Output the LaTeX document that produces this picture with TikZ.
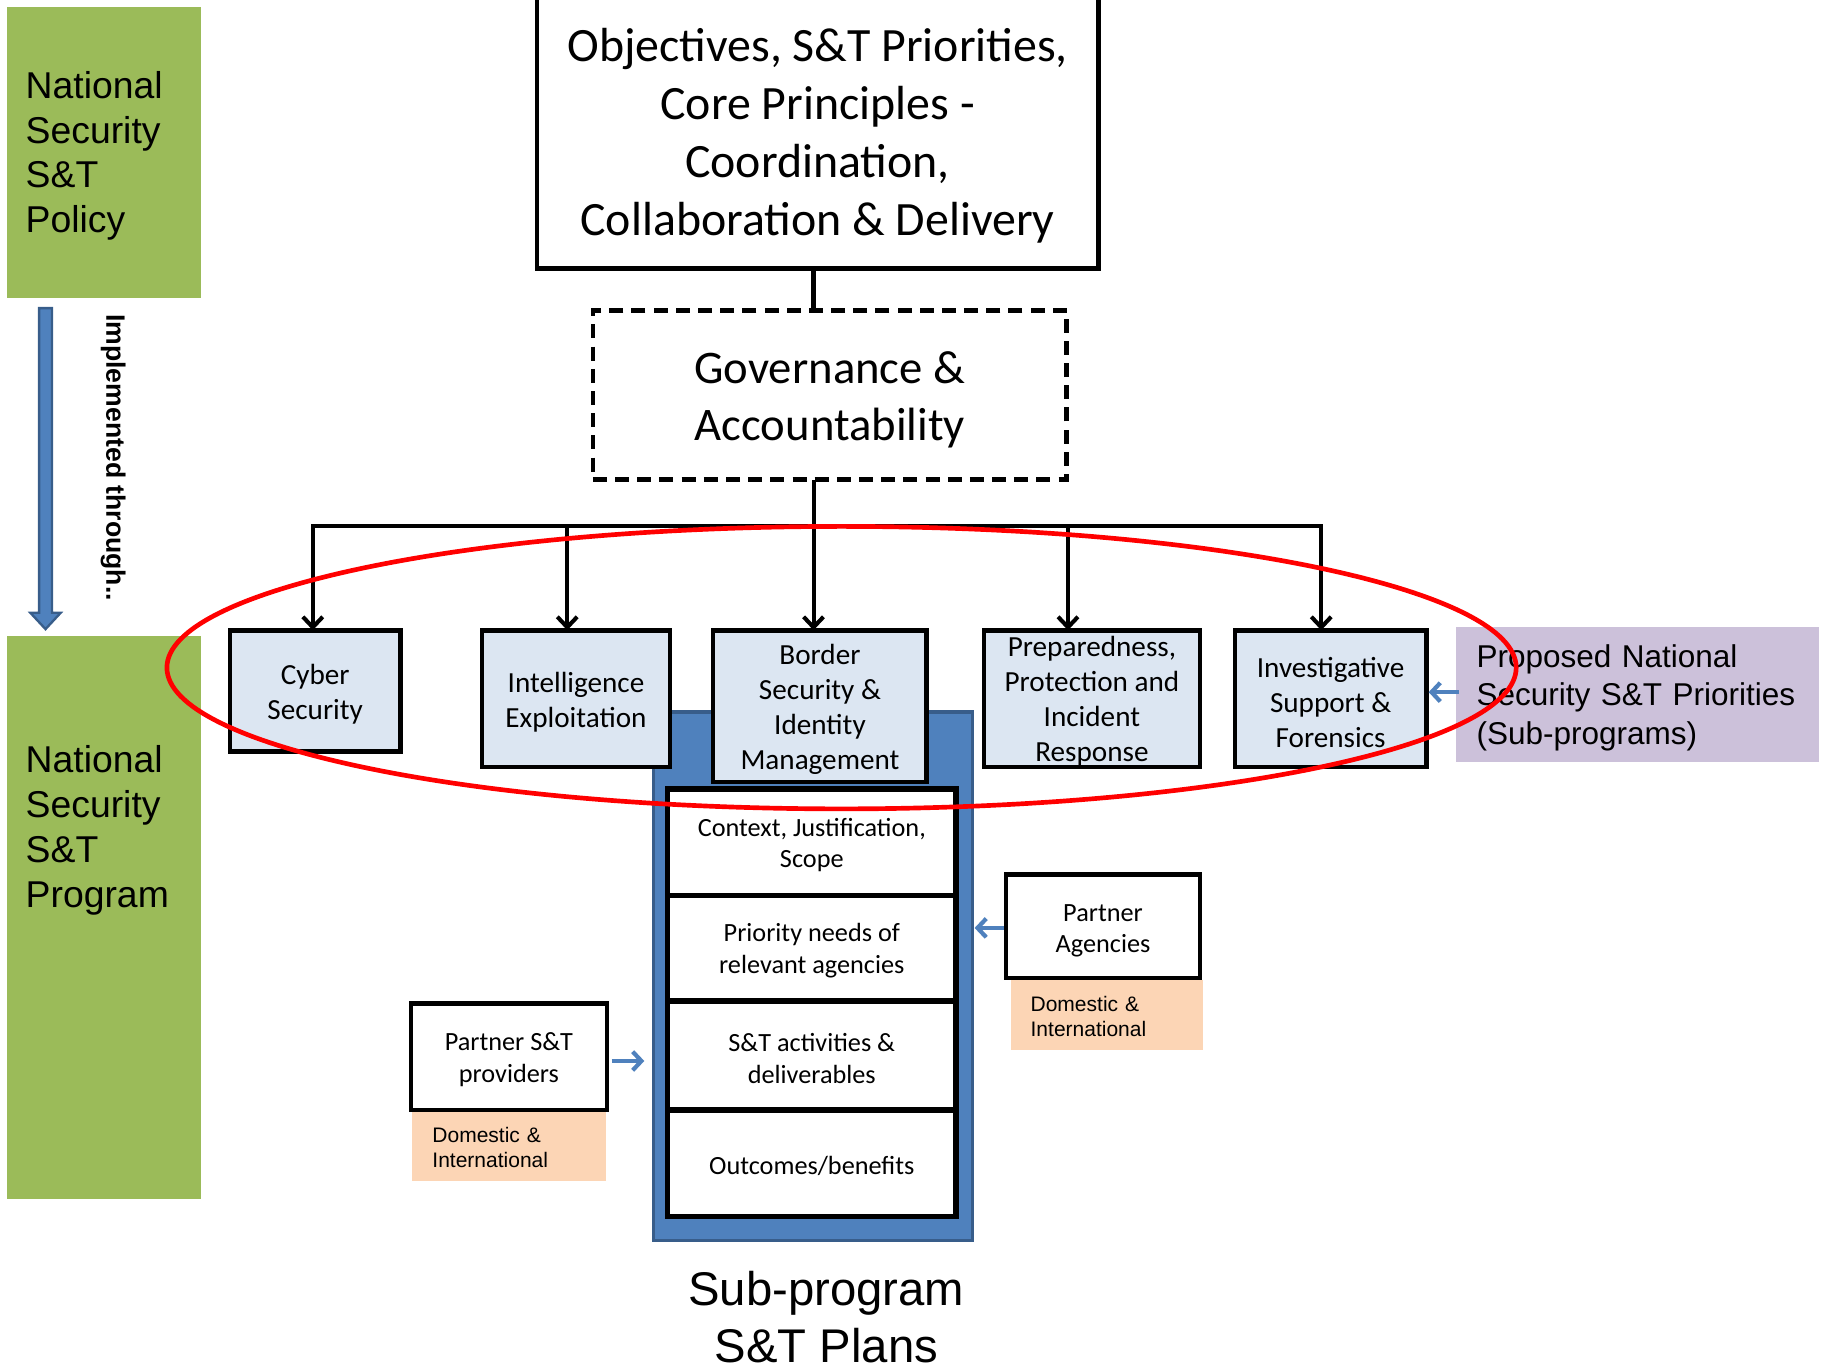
\documentclass[tikz,border=0pt]{standalone}
\usepackage{fontspec}
\setmainfont{Carlito}
\newfontfamily\arialf{Liberation Sans}
\usetikzlibrary{arrows.meta,calc}
\definecolor{grn}{HTML}{9BBB59}
\definecolor{lblue}{HTML}{DCE6F2}
\definecolor{mblue}{HTML}{4F81BD}
\definecolor{dblue}{HTML}{385D8A}
\definecolor{purp}{HTML}{CCC1DA}
\definecolor{orng}{HTML}{FCD5B5}
\begin{document}
\begin{tikzpicture}[x=1pt,y=-1pt,
  every node/.style={inner sep=0pt, outer sep=0pt},
  greentxt/.style={align=left, text width=134pt, yshift=-3pt,
     font=\arialf\fontsize{32}{38.5}\selectfont},
  subbox/.style={draw=black, line width=4pt, fill=lblue},
  subtxt/.style={align=center, yshift=-3pt, font=\fontsize{25}{30}\selectfont},
  innerbox/.style={draw=black, line width=4.5pt, fill=white, minimum width=247pt},
  innertxt/.style={align=center, yshift=-2.5pt, font=\fontsize{22.5}{27}\selectfont},
  partnerbox/.style={draw=black, line width=4pt, fill=white},
  orangebox/.style={fill=orng, minimum width=165pt, minimum height=60pt},
  orangetxt/.style={align=left, text width=131pt, yshift=-1pt,
     font=\arialf\fontsize{18}{22}\selectfont},
  arr/.style={line width=3.5pt, -{Straight Barb[length=9pt,width=17pt]}},
  barr/.style={mblue, line width=3.6pt, -{Straight Barb[length=7.5pt,width=16pt]}}]
\useasboundingbox (0,0) rectangle (1567,1175);

% left green column
\node[fill=grn, minimum width=166pt, minimum height=249pt,
  label={[greentxt]center:{National\\Security\\S\&T\\Policy}}] (policy) at (89,130.5) {};
\node[fill=grn, minimum width=166pt, minimum height=482pt] (program) at (89,786) {};
\node[greentxt, anchor=west, text width=] (programtext)
  at (22,708.5) {National\\Security\\S\&T\\Program};
\coordinate (downtop) at (39,264);
\coordinate (downbot) at (39,539);
\draw[dblue, line width=2pt, fill=mblue]
  ($(downtop)+(-5.5,0)$) -- ($(downtop)+(5.5,0)$) -- ($(downbot)+(5.5,-14)$) -- ($(downbot)+(13,-14)$)
  -- (downbot) -- ($(downbot)+(-13,-14)$) -- ($(downbot)+(-5.5,-14)$) -- cycle;
\node[rotate=-90, font=\arialf\bfseries\fontsize{22.8}{27}\selectfont] (impl) at (97,392)
  {Implemented through..};

% top boxes
\node[draw=black, line width=4pt, fill=white, minimum width=481pt, minimum height=234pt,
  label={[align=center, yshift=-3.2pt, font=\fontsize{41}{49.5}\selectfont]center:%
  {Objectives, S\&T Priorities,\\Core Principles -\\Coordination,\\Collaboration \& Delivery}}]
  (obj) at (700.5,113) {};
\node[draw=black, line width=4pt, dash pattern=on 12pt off 7pt, fill=white,
  minimum width=406pt, minimum height=145pt,
  label={[align=center, yshift=-4pt, font=\fontsize{40}{49}\selectfont]center:%
  {Governance \&\\Accountability}}] (gov) at (711,338.5) {};

% sub-program plan panel
\node[draw=dblue, line width=3pt, fill=mblue, minimum width=273pt, minimum height=453pt]
  (sub) at (696.5,836.5) {};

% sub-programs
\node[subbox, minimum width=146pt, minimum height=104pt,
  label={[subtxt]center:{Cyber\\Security}}] (cyber) at (270,592) {};
\node[subbox, minimum width=161pt, minimum height=117pt,
  label={[subtxt]center:{Intelligence\\Exploitation}}] (intel) at (493.5,598.5) {};
\node[subbox, minimum width=183pt, minimum height=130pt,
  label={[subtxt, yshift=0.5pt]center:{Border\\Security \&\\Identity\\Management}}] (border) at (702.5,605) {};
\node[subbox, minimum width=185pt, minimum height=117pt,
  label={[subtxt, yshift=1pt]center:{Preparedness,\\Protection and\\Incident\\Response}}] (prep) at (935.5,598.5) {};
\node[subbox, minimum width=164pt, minimum height=117pt,
  label={[subtxt]center:{Investigative\\Support \&\\Forensics}}] (inv) at (1140,598.5) {};

\node[fill=purp, minimum width=311pt, minimum height=116pt,
  label={[align=left, text width=275pt, yshift=-2.5pt, font=\arialf\fontsize{27}{33}\selectfont]center:%
  {Proposed National\\Security S\&T Priorities\\(Sub-programs)}}] (prop) at (1402.5,595) {};

% inner plan boxes
\node[innerbox, minimum height=91pt,
  label={[innertxt]center:{Context, Justification,\\Scope}}] (ctx) at (695.5,721.5) {};
\node[innerbox, minimum height=90pt,
  label={[innertxt]center:{Priority needs of\\relevant agencies}}] (prio) at (695.5,812) {};
\node[innerbox, minimum height=93pt,
  label={[innertxt]center:{S\&T activities \&\\deliverables}}] (act) at (695.5,904.5) {};
\node[innerbox, minimum height=91pt,
  label={[innertxt]center:{Outcomes/benefits}}] (out) at (695.5,996.5) {};

% partners
\node[orangebox, label={[orangetxt]center:{Domestic \&\\International}}] (pado) at (948.5,870) {};
\node[partnerbox, minimum width=166pt, minimum height=89pt,
  label={[innertxt, yshift=-1.5pt]center:{Partner\\Agencies}}] (pa) at (945,793.5) {};
\node[orangebox, minimum width=166pt, label={[orangetxt]center:{Domestic \&\\International}}] (psdo) at (436,982) {};
\node[partnerbox, minimum width=168pt, minimum height=91pt,
  label={[innertxt]center:{Partner S\&T\\providers}}] (ps) at (436,905.5) {};

\node[align=center, font=\arialf\fontsize{40.5}{49}\selectfont] (sublabel) at (708,1128.5)
  {Sub-program\\S\&T Plans};

% connectors
\coordinate (bc) at (697,451);
\coordinate (b1) at (268,451);
\coordinate (b2) at (486,451);
\coordinate (b4) at (915,451);
\coordinate (b5) at (1132,451);
\draw[line width=4pt] (obj.south -| bc) -- (gov.north -| bc);
\draw[line width=3.5pt] (gov.south -| bc) -- (bc);
\draw[line width=3.5pt, line cap=rect] (b1) -- (b5);
\draw[arr] (b1) -- (b1 |- cyber.north);
\draw[arr] (b2) -- (b2 |- intel.north);
\draw[arr] (bc) -- (bc |- border.north);
\draw[arr] (b4) -- (b4 |- prep.north);
\draw[arr] (b5) -- (b5 |- inv.north);

\draw[barr, shorten <=-3pt, shorten >=2pt] (prop.west |- 0,593) -- (inv.east |- 0,593);
\draw[barr, shorten <=2pt, shorten >=2pt] (pa.west |- 0,795) -- (sub.east |- 0,795);
\draw[barr, shorten <=4pt, shorten >=8pt] (ps.east |- 0,909) -- (sub.west |- 0,909);

% red ellipse
\coordinate (ellc) at (721,572);
\draw[red, line width=4pt] (ellc) ellipse [x radius=578, y radius=121];
\end{tikzpicture}
\end{document}
